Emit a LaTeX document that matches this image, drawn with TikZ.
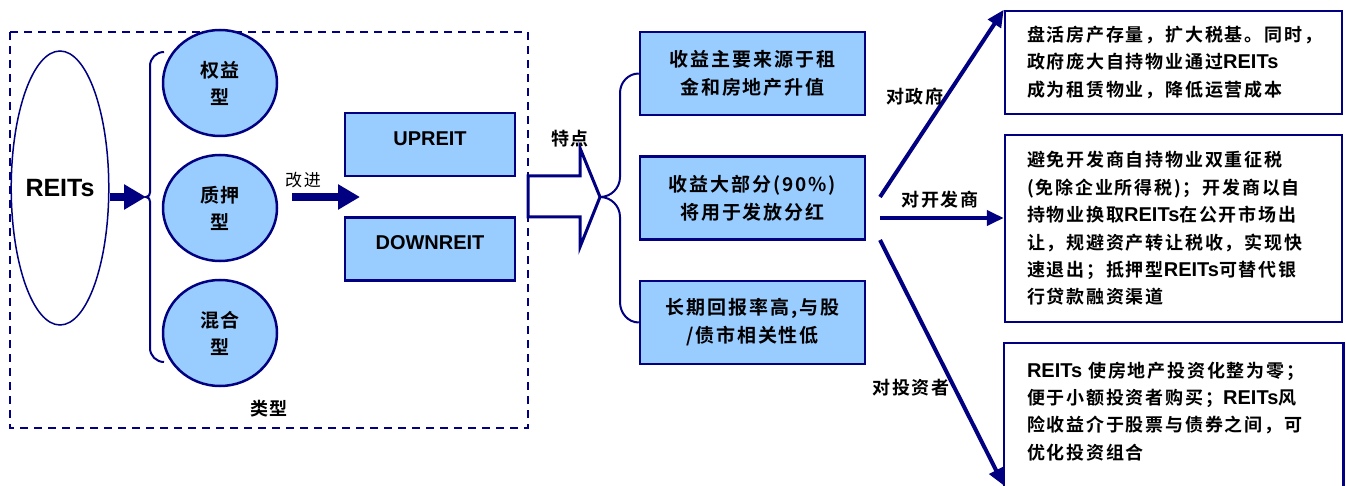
\documentclass[tikz,border=0pt]{standalone}
\usepackage{fontspec}
\setmainfont{Liberation Sans}
\newfontfamily\cjk{Noto Sans CJK SC}[BoldFont={Noto Sans CJK SC Bold},LetterSpace=10]
\newfontfamily\lat{Liberation Sans}
\newcommand{\reits}{{\lat\bfseries\fontsize{20}{20}\selectfont REITs}}
\usetikzlibrary{arrows.meta,shapes.geometric}
\definecolor{deepnavy}{RGB}{0,0,128}
\definecolor{paleblue}{RGB}{153,204,255}

\begin{document}
\begin{tikzpicture}[x=1pt,y=-1pt,
            every node/.style={font=\cjk\bfseries\fontsize{18}{22}\selectfont},
            typecirc/.style={ellipse,draw=deepnavy,line width=2.5pt,fill=paleblue,
                minimum width=114pt,minimum height=106pt,align=center,
                font=\cjk\bfseries\fontsize{19}{27}\selectfont},
            formbox/.style={rectangle,draw=deepnavy,line width=2.5pt,fill=paleblue,
                minimum width=170pt,minimum height=63pt,text height=14pt,text depth=12pt,
                font=\lat\bfseries\fontsize{20}{24}\selectfont},
            featbox/.style={rectangle,draw=deepnavy,line width=2.5pt,fill=paleblue,
                minimum width=225pt,minimum height=83pt,align=center,
                font=\cjk\bfseries\fontsize{19}{28}\selectfont},
            infobox/.style={rectangle,draw=deepnavy,line width=2.5pt,fill=white,
                text width=293pt,inner xsep=22pt,inner ysep=0pt,align=left,
                font=\cjk\bfseries\fontsize{18}{27.4}\selectfont},
            fatarrow/.style={deepnavy,line width=8pt,-{Triangle[length=22pt,width=24pt]}},
            thinarrow/.style={deepnavy,line width=4pt,-{Triangle[length=17pt,width=15pt]}},
            bracket/.style={deepnavy,line width=2pt}]
            \useasboundingbox (0,0) rectangle (1346,486);

            % kinds of REITs
            \draw[deepnavy,line width=1.5pt,dash pattern=on 8pt off 6pt] (10,32) rectangle (528,428);
            \node[ellipse,draw=deepnavy,line width=1.5pt,inner sep=0pt,minimum width=96pt,minimum height=274pt,
                font=\lat\bfseries\fontsize{25}{28}\selectfont] (reits) at (60,188) {REITs};
            \node[typecirc] (equity) at (220,83) {权益\\型};
            \node[typecirc] (mortgage) at (220,208) {质押\\型};
            \node[typecirc] (hybrid) at (220,333) {混合\\型};
            \node (kinds) at (269,409) {类型};

            \coordinate (ltip) at (146,197);
            \draw[fatarrow] (reits.east |- ltip) -- (ltip);
            \draw[bracket] (164,52) to[out=180,in=90] (150,66) -- (150,183)
                to[out=-90,in=0] (ltip) to[out=0,in=90] (150,211) -- (150,348)
                to[out=-90,in=180] (164,362);

            \node[formbox] (up) at (430,144.5) {UPREIT};
            \node[formbox] (down) at (430,249) {DOWNREIT};
            \coordinate (gap) at (360,197);
            \draw[fatarrow] ([xshift=14pt]mortgage.east |- gap) -- (gap);
            \node[font=\cjk\fontsize{17}{20}\selectfont] (improve) at (303,180) {改进};

            % features
            \coordinate (rtip) at (600,197);
            \draw[deepnavy,line width=3pt,fill=white] (528,176) -- (580,176) -- (580,148) -- (rtip)
                -- (580,247) -- (580,217) -- (528,217) -- cycle;
            \node (traits) at (570,139) {特点};

            \node[featbox] (feat1) at (752.5,73.5) {收益主要来源于租\\金和房地产升值};
            \node[featbox] (feat2) at (752.5,198) {收益大部分(90\%)\\将用于发放分红};
            \node[featbox] (feat3) at (752.5,322.5) {长期回报率高,与股\\/债市相关性低};
            \draw[bracket] (rtip) to[out=0,in=-90] (620,177) -- (620,93) to[out=90,in=180] (feat1.west);
            \draw[bracket] (rtip) to[out=0,in=90] (620,217) -- (620,302) to[out=-90,in=180] (feat3.west);

            % effects
            \node[infobox,minimum height=103pt] (govbox) at (1173.5,62.5)
                {盘活房产存量，扩大税基。同时，\\政府庞大自持物业通过\reits\\成为租赁物业，降低运营成本};
            \node[infobox,minimum height=187pt] (devbox) at (1173.5,228.5)
                {避免开发商自持物业双重征税\\(免除企业所得税)；开发商以自\\持物业换取\reits 在公开市场出\\让，规避资产转让税收，实现快\\速退出；抵押型\reits 可替代银\\行贷款融资渠道};
            \node[infobox,draw=none,fill=none,minimum height=134pt,anchor=north] (invbox) at (1173.5,343)
                {\reits~使房地产投资化整为零；\\便于小额投资者购买；\reits 风\\险收益介于股票与债券之间，可\\优化投资组合};
            \draw[deepnavy,line width=2.5pt] ([yshift=-30pt]invbox.south west) -- (invbox.north west)
                -- (invbox.north east) -- ([yshift=-30pt]invbox.south east);

            \coordinate (g1) at (880,197);
            \coordinate (g2) at (880,218);
            \coordinate (g3) at (880,240);
            \draw[thinarrow] (g1) -- (govbox.north west);
            \draw[thinarrow] (g2) -- (devbox.west |- g2);
            \draw[thinarrow] (g3) -- ([yshift=-6pt]invbox.south west);
            \node (forgov) at (915,97) {对政府};
            \node (fordev) at (940,200) {对开发商};
            \node (forinv) at (911,388) {对投资者};
\end{tikzpicture}
\end{document}
